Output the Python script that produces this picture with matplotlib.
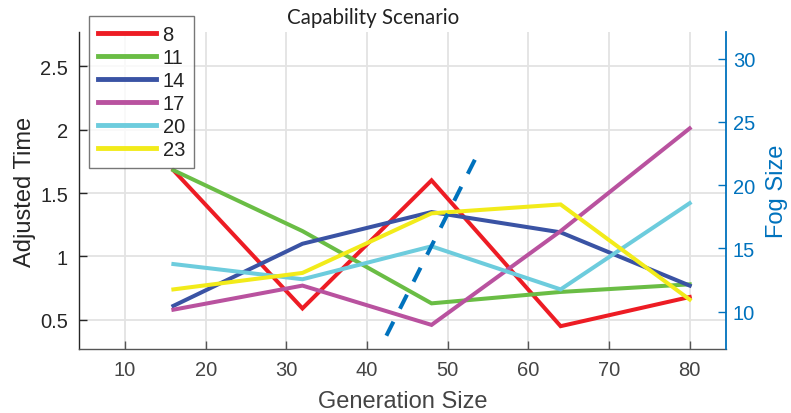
import matplotlib
matplotlib.use("Agg")
import matplotlib.pyplot as plt

x_vals = [16, 32, 48, 64, 80]
series_labels = ["8", "11", "14", "17", "20", "23"]
series_values = {
    "8":  [1.68, 0.59, 1.60, 0.45, 0.68],
    "11": [1.68, 1.20, 0.63, 0.72, 0.78],
    "14": [0.61, 1.10, 1.35, 1.19, 0.77],
    "17": [0.58, 0.77, 0.46, 1.20, 2.01],
    "20": [0.94, 0.82, 1.08, 0.74, 1.42],
    "23": [0.74, 0.87, 1.34, 1.41, 0.66],
}
series_colors = ["#ED1C24", "#6ABD45", "#3A53A4", "#B9529F", "#6DCCDD", "#F2EB1A"]

fog_x = [42.4, 53.6]
fog_y = [8.1, 22.3]

x_ticks = [10, 20, 30, 40, 50, 60, 70, 80]
left_ticks = [0.5, 1, 1.5, 2, 2.5]
left_ticklabels = ["0.5", "1", "1.5", "2", "2.5"]
right_ticks = [10, 15, 20, 25, 30]

plt.rcParams['font.family'] = ['Liberation Sans', 'DejaVu Sans']

W, H = 791, 414
fig = plt.figure(figsize=(W/100, H/100), dpi=100)
ax = fig.add_axes([79/W, 1-350/H, 647/W, 317/H])
ax2 = ax.twinx()

dark = "#262626"
blue = "#0072BD"

lines = []
for lab, col in zip(series_labels, series_colors):
    l, = ax.plot(x_vals, series_values[lab], color=col, lw=2.9, solid_joinstyle='miter', zorder=3)
    lines.append(l)

ax2.plot(fog_x, fog_y, color=blue, lw=2.9, dashes=(3.9, 3.6), zorder=3)

ax.set_xlim(4.3, 84.5)
ax.set_ylim(0.27, 2.77)
ax2.set_ylim(7.05, 32.1)

ax.set_xticks(x_ticks)
ax.set_yticks(left_ticks)
ax.set_yticklabels(left_ticklabels)
ax2.set_yticks(right_ticks)

ax.grid(True, color="#e3e3e3", lw=1.3)
ax.set_axisbelow(True)

for a in (ax, ax2):
    a.spines['top'].set_visible(False)
ax.spines['right'].set_visible(False)
ax2.spines['left'].set_visible(False)
ax2.spines['bottom'].set_visible(False)
ax.spines['left'].set_color(dark)
ax.spines['bottom'].set_color("#555555")
ax2.spines['right'].set_color(blue)
for s in ('left', 'bottom'):
    ax.spines[s].set_linewidth(1.0)
ax2.spines['right'].set_linewidth(1.3)

ax.tick_params(axis='both', direction='in', length=6, width=1, colors=dark, labelsize=14.5, pad=8)
ax.tick_params(axis='x', colors="#555555", labelcolor="#444444")
ax2.tick_params(axis='y', direction='in', length=6, width=1, colors=blue, labelcolor=blue, labelsize=14.5, pad=5)

ax.set_xlabel("Generation Size", fontsize=17, color="#444444", labelpad=8)
ax.set_ylabel("Adjusted Time", fontsize=17, color=dark, labelpad=3)
ax2.set_ylabel("Fog Size", fontsize=17, color=blue, labelpad=8)

fig.text(373/W, 1-18/H, "Capability Scenario", ha='center', va='center',
         fontsize=14.8, color="#222222", family=['Lato', 'DejaVu Sans'])

leg = fig.legend(lines, series_labels, loc='upper left', bbox_to_anchor=(89/W, 1-17/H),
                 frameon=True, fancybox=False, fontsize=14.5, handlelength=2.9,
                 handletextpad=0.3, labelspacing=0.2, borderpad=0.45, borderaxespad=0)
leg.get_frame().set_edgecolor("#555555")
leg.get_frame().set_linewidth(1.0)
for t in leg.get_texts():
    t.set_color("#222222")
for l in leg.get_lines():
    l.set_linewidth(3.5)

fig.savefig("out.png", dpi=100)
